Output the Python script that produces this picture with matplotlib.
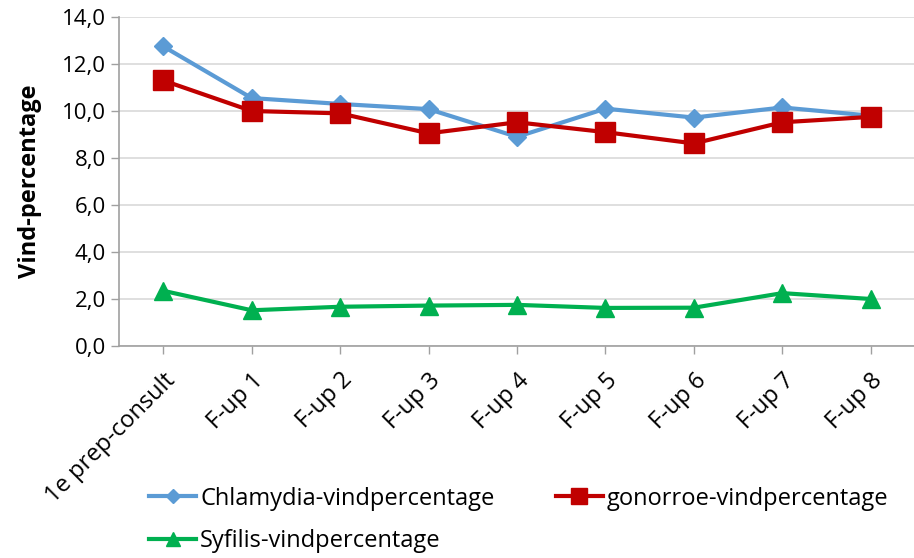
import numpy as np
import matplotlib.pyplot as plt
from matplotlib.ticker import FuncFormatter

plt.rcParams['font.family'] = ['Open Sans', 'DejaVu Sans']

categories = ['1e prep-consult', 'F-up 1', 'F-up 2', 'F-up 3', 'F-up 4',
              'F-up 5', 'F-up 6', 'F-up 7', 'F-up 8']
chlamydia = [12.75, 10.55, 10.3, 10.08, 8.9, 10.1, 9.72, 10.15, 9.8]
gonorroe = [11.3, 10.0, 9.9, 9.05, 9.52, 9.1, 8.62, 9.52, 9.75]
syfilis = [2.35, 1.52, 1.67, 1.72, 1.75, 1.62, 1.63, 2.25, 2.0]

fig = plt.figure(figsize=(9.14, 5.58), dpi=100)
ax = fig.add_axes([119 / 914, 1 - 346 / 558, 796 / 914, 329 / 558])

x = np.arange(len(categories))
l1, = ax.plot(x, chlamydia, color='#5B9BD5', lw=3, marker='D', ms=9,
              label='Chlamydia-vindpercentage', zorder=3)
l2, = ax.plot(x, gonorroe, color='#C00000', lw=3, marker='s', ms=14,
              label='gonorroe-vindpercentage', zorder=4)
l3, = ax.plot(x, syfilis, color='#00B050', lw=3, marker='^', ms=13,
              label='Syfilis-vindpercentage', zorder=3)

ax.set_xlim(-0.5, 8.5)
ax.set_ylim(0, 14)
ax.set_yticks(np.arange(0, 14.1, 2))
ax.yaxis.set_major_formatter(FuncFormatter(lambda v, p: f'{v:.1f}'.replace('.', ',')))
ax.set_xticks(x)
ax.set_xticklabels(categories, rotation=45, ha='right', rotation_mode='anchor')
ax.tick_params(axis='both', labelsize=16, color='#A0A0A0', length=6, width=1)
ax.tick_params(axis='x', labelsize=17, pad=10)
ax.grid(axis='y', color='#D9D9D9', lw=1.2)
ax.set_axisbelow(True)
for s in ['top', 'right']:
    ax.spines[s].set_visible(False)
ax.spines['left'].set_color('#A0A0A0')
ax.spines['bottom'].set_color('#A0A0A0')
ax.spines['left'].set_linewidth(1.2)
ax.spines['bottom'].set_linewidth(1.2)

ax.set_ylabel('Vind-percentage', fontsize=17, fontweight='bold', labelpad=14)

fig.legend([l1, l3, l2], [l1.get_label(), l3.get_label(), l2.get_label()],
           loc='lower left', bbox_to_anchor=(128 / 914, -0.03), ncol=2,
           frameon=False, fontsize=17, handlelength=2.0, handletextpad=0.15,
           columnspacing=2.6, labelspacing=0.8, markerscale=0.8)

fig.savefig('out.png', dpi=100)
